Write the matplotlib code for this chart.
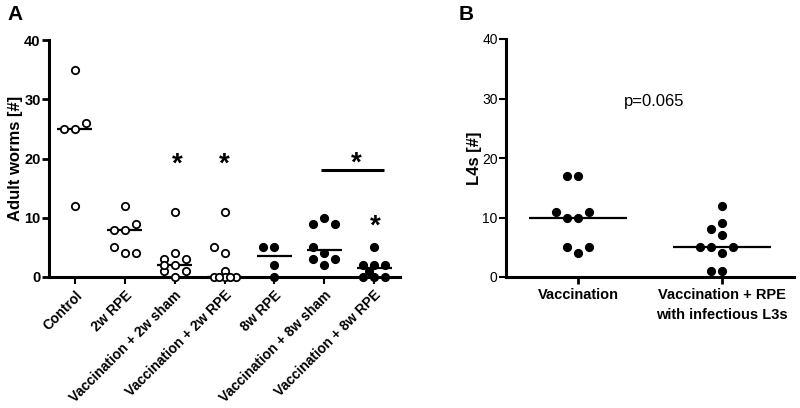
import matplotlib
matplotlib.use("Agg")
import matplotlib.pyplot as plt
import numpy as np

plt.rcParams['font.family'] = ['Liberation Sans', 'DejaVu Sans']

# ---------------- data ----------------
a_categories = ["Control", "2w RPE", "Vaccination + 2w sham", "Vaccination + 2w RPE",
                "8w RPE", "Vaccination + 8w sham", "Vaccination + 8w RPE"]
a_control = [35, 25, 25, 26, 12]
a_2w_rpe = [12, 8, 8, 9, 4, 5, 4]
a_vac_2w_sham = [11, 4, 3, 3, 2, 1, 1, 0, 2]
a_vac_2w_rpe = [11, 4, 5, 1, 0, 0, 0, 0, 0]
a_8w_rpe = [5, 5, 2, 0]
a_vac_8w_sham = [10, 9, 9, 4, 5, 3, 3, 2]
a_vac_8w_rpe = [5, 2, 2, 2, 1, 0, 0, 0]
a_groups = [a_control, a_2w_rpe, a_vac_2w_sham, a_vac_2w_rpe,
            a_8w_rpe, a_vac_8w_sham, a_vac_8w_rpe]
a_filled = [False, False, False, False, True, True, True]
a_yticks = [0, 10, 20, 30, 40]

b_categories = ["Vaccination", "Vaccination + RPE\nwith infectious L3s"]
b_vaccination = [17, 17, 10, 10, 11, 11, 4, 5, 5]
b_vac_rpe = [12, 9, 8, 7, 4, 5, 5, 5, 1, 1]
b_groups = [b_vaccination, b_vac_rpe]
b_yticks = [0, 10, 20, 30, 40]
b_pvalue = "p=0.065"

# significance marks (x position, y value)
a_stars = [(2.06, 19.0), (3.0, 19.0), (6.02, 8.5)]
a_bracket = (4.94, 6.2, 18.0)
a_bracket_star = (5.64, 19.2)


def swarm_offsets(ax, x0, values, d_px=11.0, thr_px=6.5, kmax=1):
    """Greedy swarm layout in pixel space (integer slots, half-slot fallback)."""
    fig = ax.figure
    fig.canvas.draw()
    trans = ax.transData
    ppu_x = trans.transform((1, 0))[0] - trans.transform((0, 0))[0]
    ppu_y = trans.transform((0, 1))[1] - trans.transform((0, 0))[1]
    placed = []
    offs = []
    cands = [0.0]
    for k in range(1, kmax + 1):
        cands += [-float(k), float(k)]
    fb = [0.0]
    k = 0.5
    while k <= kmax + 1e-9:
        fb += [-k, k]
        k += 0.5
    for v in values:
        y = v * ppu_y

        def mind(kk):
            x = kk * d_px
            return min([np.hypot(x - px, y - py) for px, py in placed] + [1e9])

        chosen = None
        for kk in cands:
            if mind(kk) >= thr_px:
                chosen = kk
                break
        if chosen is None:
            best, bestd = 0.0, -1
            for kk in fb:
                m = mind(kk)
                if m > bestd + 1e-9:
                    bestd, best = m, kk
            chosen = best
        placed.append((chosen * d_px, y))
        offs.append(chosen * d_px / ppu_x)
    return x0 + np.array(offs)


fig = plt.figure(figsize=(8.0, 4.08), dpi=100)
axA = fig.add_axes([49 / 800, 1 - 277 / 408, 351 / 800, 237 / 408])
axB = fig.add_axes([506 / 800, 1 - 277 / 408, 288 / 800, 238 / 408])

for ax in (axA, axB):
    ax.spines['top'].set_visible(False)
    ax.spines['right'].set_visible(False)
    ax.spines['left'].set_linewidth(2.2)
    ax.spines['bottom'].set_linewidth(2.2)
    ax.set_ylim(0, 40)

axA.set_xlim(-0.52, 6.52)
axB.set_xlim(-0.5, 1.5)

# ---------- Panel A ----------
for i, vals in enumerate(a_groups):
    xs = swarm_offsets(axA, i, vals, kmax=1)
    if a_filled[i]:
        axA.plot(xs, vals, 'o', ms=5.6, mfc='black', mec='black', mew=1.0,
                 ls='none', clip_on=False, zorder=3)
    else:
        axA.plot(xs, vals, 'o', ms=5.3, mfc='white', mec='black', mew=1.3,
                 ls='none', clip_on=False, zorder=3)
    med = np.median(vals)
    axA.plot([i - 0.35, i + 0.35], [med, med], color='black', lw=1.6,
             solid_capstyle='butt', zorder=2, clip_on=False)

for xv, yv in a_stars:
    axA.text(xv, yv, "*", ha='center', va='center', fontsize=20, fontweight='bold')
axA.plot([a_bracket[0], a_bracket[1]], [a_bracket[2], a_bracket[2]], color='black',
         lw=2.2, solid_capstyle='butt')
axA.text(a_bracket_star[0], a_bracket_star[1], "*", ha='center', va='center',
         fontsize=20, fontweight='bold')

axA.set_yticks(a_yticks)
axA.set_yticklabels([str(t) for t in a_yticks], fontsize=10.5, fontweight='bold')
axA.set_xticks(range(len(a_categories)))
axA.set_xticklabels(a_categories, rotation=45, ha='right', rotation_mode='anchor',
                    fontsize=10, fontweight='bold')
axA.tick_params(axis='y', direction='out', length=5, width=2, pad=1)
axA.tick_params(axis='x', direction='out', length=5, width=1.5, pad=3)
axA.set_ylabel("Adult worms [#]", fontsize=12, fontweight='bold', labelpad=1)

# ---------- Panel B ----------
for i, vals in enumerate(b_groups):
    xs = swarm_offsets(axB, i, vals, kmax=2)
    axB.plot(xs, vals, 'o', ms=5.6, mfc='black', mec='black', mew=1.0,
             ls='none', clip_on=False, zorder=3)
    med = np.median(vals)
    axB.plot([i - 0.34, i + 0.34], [med, med], color='black', lw=1.6,
             solid_capstyle='butt', zorder=2)

axB.text(0.53, 29.5, b_pvalue, ha='center', va='center', fontsize=12)
axB.set_yticks(b_yticks)
axB.set_yticklabels([str(t) for t in b_yticks], fontsize=10,
                    family=['Liberation Sans Narrow', 'Liberation Sans'])
axB.tick_params(axis='y', direction='out', length=5, width=1.5, pad=1)
axB.set_xticks(range(len(b_categories)))
axB.set_xticklabels(b_categories, fontsize=10.5, fontweight='bold', linespacing=1.5)
axB.tick_params(axis='x', direction='out', length=5, width=2, pad=3)
axB.set_ylabel("L4s [#]", fontsize=12, fontweight='bold', labelpad=0)

fig.text(7 / 800, 1 - 14 / 408, "A", fontsize=15, fontweight='bold', va='center')
fig.text(459 / 800, 1 - 14 / 408, "B", fontsize=15, fontweight='bold', va='center')

fig.savefig("out.png", dpi=100)
